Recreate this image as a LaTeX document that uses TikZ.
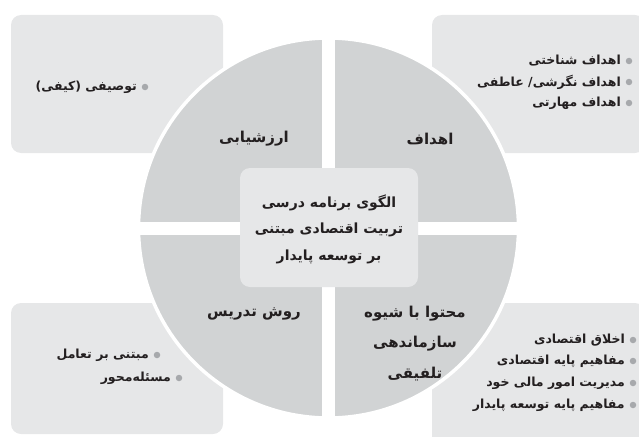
\documentclass[tikz,border=0pt]{standalone}
\usepackage{fontspec}
\newfontfamily\fa[Script=Arabic]{DejaVu Sans}
\TeXXeTstate=1
\definecolor{boxgray}{HTML}{E6E7E8}
\definecolor{circgray}{HTML}{D1D3D4}
\definecolor{bulgray}{HTML}{A7A9AC}
\definecolor{txt}{HTML}{231F20}
\tikzset{
  outerbox/.style={fill=boxgray, rounded corners=10pt},
  item/.style={anchor=east, inner sep=0pt, font=\fa\bfseries\fontsize{12.5}{15}\selectfont, text=txt},
  quad/.style={inner sep=0pt, font=\fa\bfseries\fontsize{15}{18}\selectfont, text=txt},
  centre/.style={inner sep=0pt, font=\fa\bfseries\fontsize{14}{17}\selectfont, text=txt},
  bul/.style={circle, fill=bulgray, inner sep=0pt, minimum size=6.5pt},
}
\begin{document}
\begin{tikzpicture}[x=1pt,y=-1pt]
\useasboundingbox (0,0) rectangle (639,436);
% outer boxes
\fill[outerbox] (11,15) rectangle (223,153);
\fill[outerbox] (432,15) rectangle (645,153);
\fill[outerbox] (11,303) rectangle (223,434);
\fill[outerbox] (432,303) rectangle (645,446);
% circle
\coordinate (c) at (328.5,228);
\fill[circgray, draw=white, line width=3.5pt] (c) circle[radius=190];
\begin{scope}
\clip (c) circle[radius=192];
\fill[white] (322,30) rectangle (335,430);
\fill[white] (130,221.5) rectangle (530,234.5);
\end{scope}
% centre box
\fill[boxgray, rounded corners=10pt] (240,168) rectangle (418,287);
\node[centre] (t1) at (329,203) {\beginR الگوی برنامه درسی\endR};
\node[centre] (t2) at (329,230) {\beginR تربیت اقتصادی مبتنی\endR};
\node[centre] (t3) at (329,257) {\beginR بر توسعه پایدار\endR};
% quadrant labels
\node[quad] (q1) at (430,139) {\beginR اهداف\endR};
\node[quad] (q2) at (254,139) {\beginR ارزشیابی\endR};
\node[quad] (q3) at (254,314) {\beginR روش تدریس\endR};
\node[quad] (q4a) at (415,314) {\beginR محتوا با شیوه\endR};
\node[quad] (q4b) at (415,344) {\beginR سازماندهی\endR};
\node[quad] (q4c) at (415,374) {\beginR تلفیقی\endR};
% top-right items
\node[bul] (b1) at (629,61) {};
\node[item] (i1) at (621,61) {\beginR اهداف شناختی\endR};
\node[bul] (b2) at (629,82) {};
\node[item] (i2) at (621,82) {\beginR اهداف نگرشی/ عاطفی\endR};
\node[bul] (b3) at (629,103) {};
\node[item] (i3) at (621,103) {\beginR اهداف مهارتی\endR};
% top-left item
\node[bul] (b4) at (145,87) {};
\node[item] (i4) at (137,87) {\beginR توصیفی (کیفی)\endR};
% bottom-left items
\node[bul] (b5) at (157,355) {};
\node[item] (i5) at (149,355) {\beginR مبتنی بر تعامل\endR};
\node[bul] (b6) at (179,378) {};
\node[item] (i6) at (171,378) {\beginR مسئله‌محور\endR};
% bottom-right items
\node[bul] (b7) at (633,340) {};
\node[item] (i7) at (625,340) {\beginR اخلاق اقتصادی\endR};
\node[bul] (b8) at (633,361) {};
\node[item] (i8) at (625,361) {\beginR مفاهیم پایه اقتصادی\endR};
\node[bul] (b9) at (633,383) {};
\node[item] (i9) at (625,383) {\beginR مدیریت امور مالی خود\endR};
\node[bul] (b10) at (633,405) {};
\node[item] (i10) at (625,405) {\beginR مفاهیم پایه توسعه پایدار\endR};
\end{tikzpicture}
\end{document}
